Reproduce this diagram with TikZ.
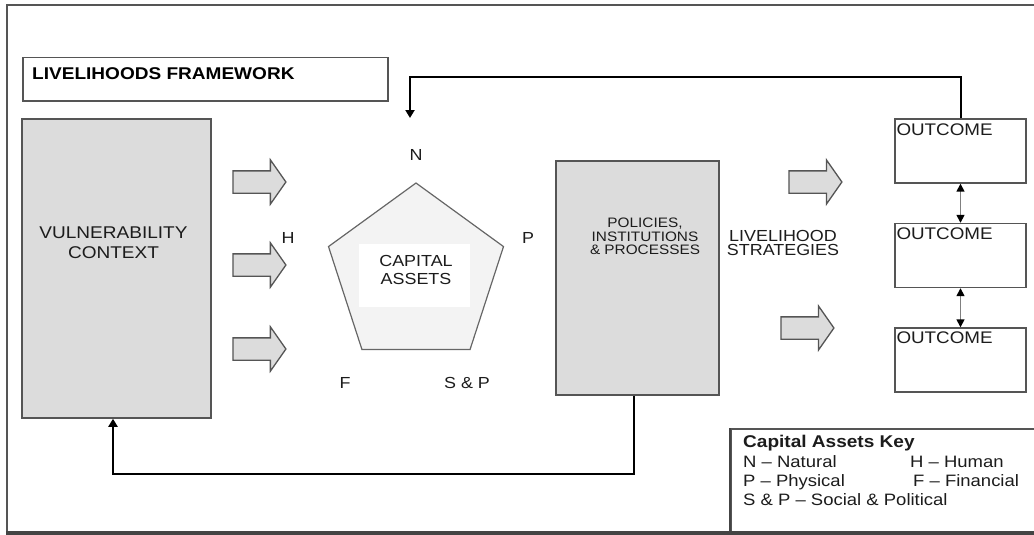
\documentclass[tikz,border=0pt]{standalone}
\usepackage{fontspec}
\setmainfont{Liberation Sans}[FakeStretch=1.12]
\usepackage{xcolor}
\usepackage{tikz}
\usetikzlibrary{shapes.geometric, shapes.arrows, arrows.meta, positioning}

\definecolor{panelgray}{HTML}{DCDCDC}
\definecolor{pentagray}{HTML}{F3F3F3}
\definecolor{edgegray}{HTML}{555555}
\definecolor{inkgray}{HTML}{1C1C1C}

\tikzset{
    panel/.style={
        rectangle,
        draw=edgegray,
        line width=1.5pt,
        fill=panelgray,
        inner sep=0pt
    },
    outcome/.style={
        rectangle,
        draw=edgegray,
        line width=1.4pt,
        fill=white,
        minimum width=131pt,
        minimum height=64pt,
        inner sep=0pt
    },
    blockarrow/.style={
        single arrow,
        draw=edgegray,
        line width=1.3pt,
        fill=panelgray,
        minimum height=53pt,
        minimum width=43pt,
        single arrow head extend=11pt,
        single arrow tip angle=110,
        inner xsep=0pt,
        inner ysep=10.5pt
    },
    feedback/.style={
        draw=black,
        line width=2pt,
        -{Triangle[length=8pt,width=9pt]}
    },
    link/.style={
        draw=gray,
        line width=1.5pt,
        {Triangle[length=8pt,width=8pt,color=black]}-{Triangle[length=8pt,width=8pt,color=black]}
    },
    caption/.style={
        inner sep=0pt,
        text=inkgray,
        align=center
    },
    corner/.style={
        inner sep=0pt,
        text=inkgray,
        font=\fontsize{16}{18}\selectfont
    },
    keyline/.style={
        inner sep=0pt,
        anchor=base west,
        text=inkgray,
        font=\fontsize{16.5}{18}\selectfont
    }
}

\begin{document}
\begin{tikzpicture}[x=1pt, y=-1pt]
\useasboundingbox (0,0) rectangle (1034,535);

% outer frame
\draw[edgegray, line width=1.5pt] (7,533) -- (7,5) -- (1040,5);

% title
\node[draw=edgegray, line width=1.5pt, minimum width=365pt, minimum height=43pt, anchor=north west] (title) at (22,57) {};
\node[inner sep=0pt, anchor=north west, font=\fontsize{17}{20}\selectfont\bfseries] (titletext) at (32,67) {LIVELIHOODS FRAMEWORK};

% vulnerability context
\node[panel, minimum width=189pt, minimum height=299pt] (vuln) at (116.5,268.5) {};
\node[caption, anchor=north, font=\fontsize{17}{20}\selectfont] (vulntext) at (113.5,227) {VULNERABILITY\\CONTEXT};

% arrows into the capital assets
\node[blockarrow] (in1) at (255.5,182) {};
\node[blockarrow] (in2) at (255.5,265) {};
\node[blockarrow] (in3) at (255.5,349) {};

% capital assets pentagon
\node[regular polygon, regular polygon sides=5, minimum size=184pt, inner sep=0pt,
      draw=edgegray!90, line width=1.2pt, fill=pentagray] (assets) at (416,275) {};
\node[fill=white, minimum width=111pt, minimum height=63pt, inner sep=0pt] (assetsbg) at (414.5,275.5) {};
\node[caption, anchor=north, font=\fontsize{16}{18}\selectfont] (assetstext) at (416,255) {CAPITAL\\ASSETS};

\node[corner] (capN) at (416,155) {N};
\node[corner] (capH) at (288,238) {H};
\node[corner] (capP) at (528,238) {P};
\node[corner] (capF) at (345,383) {F};
\node[corner] (capSP) at (467,383) {S \& P};

% policies, institutions and processes
\node[panel, minimum width=163pt, minimum height=234pt] (policies) at (637.5,278) {};
\node[caption, anchor=north, font=\fontsize{13.7}{13.5}\selectfont] (policiestext) at (645,218) {POLICIES,\\INSTITUTIONS\\\& PROCESSES};

% livelihood strategies
\node[caption, anchor=north, font=\fontsize{16}{14}\selectfont] (strategies) at (783,230) {LIVELIHOOD\\STRATEGIES};
\node[blockarrow] (out1arrow) at (811.5,182) {};
\node[blockarrow] (out2arrow) at (803.5,328) {};

% outcomes
\node[outcome] (out1) at (960.5,151) {};
\node[outcome] (out2) at (960.5,255.5) {};
\node[outcome] (out3) at (960.5,360) {};
\node[corner, font=\fontsize{16.8}{18}\selectfont, below right=5pt and 2pt of out1.north west] {OUTCOME};
\node[corner, font=\fontsize{16.8}{18}\selectfont, below right=5pt and 2pt of out2.north west] {OUTCOME};
\node[corner, font=\fontsize{16.8}{18}\selectfont, below right=4.5pt and 2pt of out3.north west] {OUTCOME};

\draw[link] (out1.south) -- (out2.north);
\draw[link] (out2.south) -- (out3.north);

% feedback loops
\coordinate (assetsin) at (410,118);
\draw[feedback] (out1.north) -- ++(0,-41) -| (assetsin);
\draw[feedback] ([xshift=-3.5pt]policies.south) -- ++(0,78) -| ([xshift=-3.5pt]vuln.south);

% capital assets key
\node[draw=edgegray, line width=1.5pt, fill=white, minimum width=320pt, minimum height=120pt, anchor=north west] (key) at (730,428) {};
\draw[edgegray!80!black, line width=2.5pt] (key.north west) -- (key.south west);
\node[keyline, font=\fontsize{17}{20}\selectfont\bfseries] (keytitle) at (743,447) {Capital Assets Key};
\node[keyline] (keyN) at (743,467) {N – Natural};
\node[keyline] (keyH) at (910,467) {H – Human};
\node[keyline] (keyP) at (743,486) {P – Physical};
\node[keyline] (keyF) at (913,486) {F – Financial};
\node[keyline] (keySP) at (743,505) {S \& P – Social \& Political};

% bottom rule
\draw[edgegray!80!black, line width=3.5pt] (6,533) -- (1040,533);

\end{tikzpicture}
\end{document}
